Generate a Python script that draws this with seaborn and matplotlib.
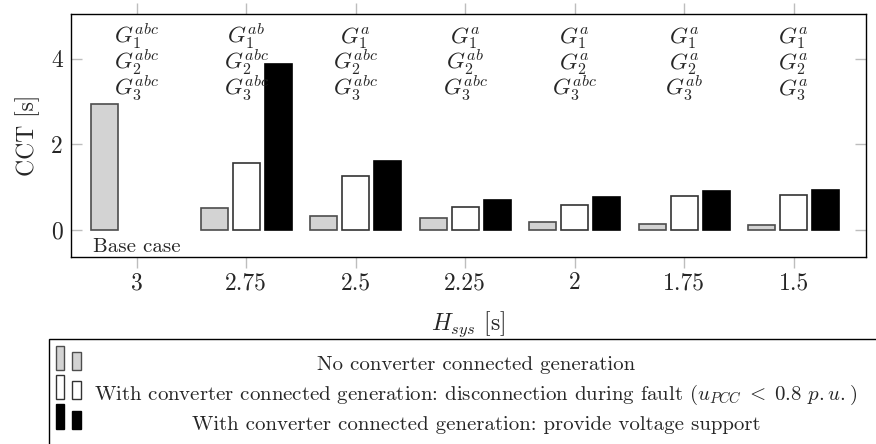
import numpy as np
import pandas as pd
import seaborn as sns
import matplotlib.pyplot as plt
from matplotlib.patches import Rectangle
from matplotlib.legend_handler import HandlerBase

# ---- data -------------------------------------------------------------
h_sys = ["3", "2.75", "2.5", "2.25", "2", "1.75", "1.5"]
cct_no_conv = [2.95, 0.52, 0.33, 0.27, 0.18, 0.14, 0.11]
cct_disconnect = [np.nan, 1.56, 1.26, 0.55, 0.59, 0.80, 0.82]
cct_voltage_support = [np.nan, 3.88, 1.61, 0.70, 0.77, 0.92, 0.93]

series_labels = [
    "No converter connected generation",
    "With converter connected generation: disconnection during fault "
    r"($u_{PCC}\;<\;0.8$ $p{.}u{.}$)",
    "With converter connected generation: provide voltage support",
]
fill_colors = ["#d3d3d3", "#ffffff", "#000000"]
edge_colors = ["#4d4d4d", "#333333", "#000000"]

# unstable generator phases per inertia level (G1, G2, G3)
gen_phases = [
    ["abc", "abc", "abc"],
    ["ab", "abc", "abc"],
    ["a", "abc", "abc"],
    ["a", "ab", "abc"],
    ["a", "a", "abc"],
    ["a", "a", "ab"],
    ["a", "a", "a"],
]

df = pd.DataFrame({
    "H": h_sys * 3,
    "CCT": cct_no_conv + cct_disconnect + cct_voltage_support,
    "case": [series_labels[0]] * 7 + [series_labels[1]] * 7 + [series_labels[2]] * 7,
})

# ---- style ------------------------------------------------------------
sns.set_style("white")
plt.rcParams["font.family"] = "serif"
plt.rcParams["font.serif"] = ["cmr10"]
plt.rcParams["mathtext.fontset"] = "cm"
plt.rcParams["axes.unicode_minus"] = False

fig = plt.figure(figsize=(8.76, 4.44), dpi=100)
ax = fig.add_axes([71 / 876, 1 - 257 / 444, 795 / 876, 243 / 444])

sns.barplot(data=df, x="H", y="CCT", hue="case", order=h_sys,
            hue_order=series_labels, palette=fill_colors, width=0.876,
            gap=0.154, errorbar=None, legend=False, ax=ax)

for cont, ec in zip(ax.containers, edge_colors):
    for bar in cont:
        bar.set_edgecolor(ec)
        bar.set_linewidth(1.2)
        bar.set_alpha(1)

ax.set_xlim(-0.60, 6.66)
ax.set_ylim(-0.63, 5.05)
ax.set_yticks([0, 2, 4])
ax.set_yticklabels(["0", "2", "4"])

for s in ax.spines.values():
    s.set_visible(True)
    s.set_color("black")
    s.set_linewidth(1.0)

ax.tick_params(axis="x", which="both", direction="out", length=8, width=1,
               color="#bdbdbd", top=True, bottom=True, labelsize=17, pad=3)
ax.tick_params(axis="y", which="both", direction="in", length=8, width=1,
               color="#bdbdbd", left=True, right=True, labelsize=17, pad=6)

ax.set_xlabel(r"$H_{sys}$ [s]", fontsize=17, labelpad=11)
ax.set_ylabel("CCT [s]", fontsize=17, labelpad=8)

# generator phase annotations above each group
row_y = [4.38, 3.77, 3.16]
for i, phases in enumerate(gen_phases):
    for g, (ph, yy) in enumerate(zip(phases, row_y)):
        ax.text(i, yy, rf"$G_{g + 1}^{{{ph}}}$", ha="center", va="baseline",
                fontsize=16.5)

ax.text(0, -0.40, "Base case", ha="center", va="center", fontsize=15)


# ---- legend: two-bar handles with centred descriptions ---------------
class PairedBars(HandlerBase):
    def create_artists(self, legend, orig, xd, yd, w, h, fs, trans):
        fc = orig.get_facecolor()
        ec = orig.get_edgecolor()
        bw = w * 0.34
        tall = Rectangle((-xd, -yd), bw, h, facecolor=fc, edgecolor=ec,
                         lw=1.0, transform=trans)
        short = Rectangle((-xd + w - bw, -yd), bw, h * 0.74, facecolor=fc,
                          edgecolor=ec, lw=1.0, transform=trans)
        return [tall, short]


proxies = [Rectangle((0, 0), 1, 1, facecolor=fc, edgecolor=ec)
           for fc, ec in zip(fill_colors, edge_colors)]
# blank trailing row keeps the frame running past the lower edge
proxies.append(Rectangle((0, 0), 1, 1, facecolor="none", edgecolor="none"))
leg = fig.legend(proxies, ["", "", "", ""],
                 handler_map={Rectangle: PairedBars()},
                 loc="upper left",
                 bbox_to_anchor=(49 / 876, 1 - 343.5 / 444, 860 / 876, 0.01),
                 mode="expand", fontsize=10, handleheight=2.3,
                 handlelength=1.8, labelspacing=0.36, borderpad=0.5,
                 frameon=True, fancybox=False, framealpha=1,
                 borderaxespad=0)
leg.get_frame().set_edgecolor("black")
leg.get_frame().set_linewidth(1.0)

text_baselines = [370, 400, 430]
for lab, yb in zip(series_labels, text_baselines):
    fig.text(476 / 876, 1 - yb / 444, lab, ha="center", va="baseline",
             fontsize=15, zorder=10)

fig.savefig("out.png", dpi=100)
